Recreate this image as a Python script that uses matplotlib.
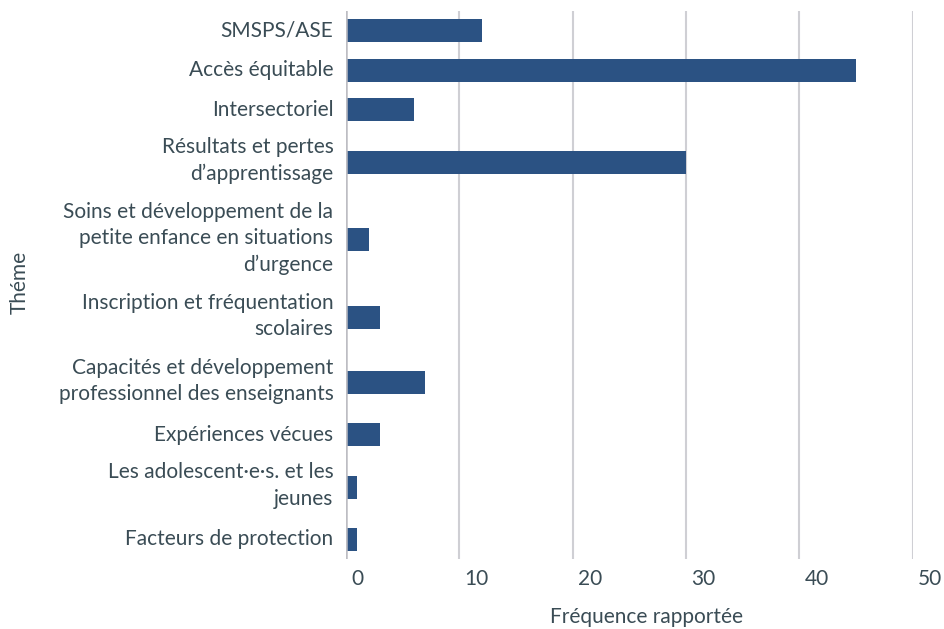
import matplotlib.pyplot as plt
import matplotlib.transforms as mtransforms

themes = [
    "SMSPS/ASE",
    "Accès équitable",
    "Intersectoriel",
    "Résultats et pertes\nd’apprentissage",
    "Soins et développement de la\npetite enfance en situations\nd’urgence",
    "Inscription et fréquentation\nscolaires",
    "Capacités et développement\nprofessionnel des enseignants",
    "Expériences vécues",
    "Les adolescent·e·s. et les\njeunes",
    "Facteurs de protection",
]
frequency = [12, 45, 6, 30, 2, 3, 7, 3, 1, 1]
x_ticks = [0, 10, 20, 30, 40, 50]

bar_color = "#2b5283"
text_color = "#3a4c55"
grid_color = "#cfcfd4"

plt.rcParams["font.family"] = ["Lato", "DejaVu Sans"]
fs = 15

# rows get taller with the number of label lines
n_lines = [t.count("\n") + 1 for t in themes]
heights = [14 + 25.5 * n for n in n_lines]
centers = []
y = 0
for h in heights:
    centers.append(y + h / 2)
    y += h
total = y

fig = plt.figure(figsize=(9.45, 6.29), dpi=100)
ax = fig.add_axes([346 / 945, 1 - 559 / 629, (912.7 - 346) / 945, 548 / 629])

ax.barh(centers, frequency, height=23, color=bar_color, zorder=3)
ax.set_xlim(0, 50)
ax.set_ylim(total, 0)

for xv in x_ticks[1:]:
    ax.axvline(xv, color=grid_color, lw=1.5, zorder=1)
ax.axvline(0, color="#bdbdc3", lw=1.8, zorder=4)

for s in ax.spines.values():
    s.set_visible(False)

ax.set_yticks(centers)
ax.set_yticklabels(themes, fontsize=fs, color=text_color,
                   linespacing=1.4, ha="right")
ax.tick_params(axis="y", length=0, pad=9)
# multi-line labels sit a bit low in matplotlib, nudge them up
for lab, n in zip(ax.get_yticklabels(), n_lines):
    dy = 2 if n == 1 else 6.5
    lab.set_transform(lab.get_transform() +
                      mtransforms.ScaledTranslation(0, dy / 100, fig.dpi_scale_trans))

ax.set_xticks(x_ticks)
ax.set_xticklabels([str(v) for v in x_ticks], fontsize=fs, color=text_color)
ax.tick_params(axis="x", length=0, pad=7)
offset = mtransforms.ScaledTranslation(5 / 100, 0, fig.dpi_scale_trans)
for lab in ax.get_xticklabels():
    lab.set_horizontalalignment("left")
    lab.set_transform(lab.get_transform() + offset)

fig.text(647 / 945, 1 - 617 / 629, "Fréquence rapportée", fontsize=fs,
         color=text_color, ha="center", va="center")
fig.text(20 / 945, 1 - 282 / 629, "Théme", fontsize=fs, color=text_color,
         ha="center", va="center", rotation=90)

fig.savefig("out.png", dpi=100)
